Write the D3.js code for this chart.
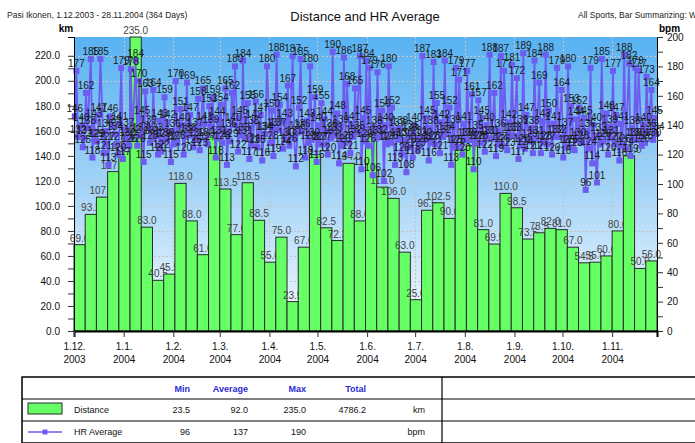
<!DOCTYPE html>
<html lang="en">
<head>
	<meta charset="utf-8">
	<title>Distance and HR Average</title>
	<script src="https://cdn.jsdelivr.net/npm/d3@7"></script>
	<style>
		body { margin: 0; background: #fff; }
		svg { display: block; font-family: "Liberation Sans", Arial, sans-serif; }
	</style>
</head>
<body>
	<script>
		// weekly distance (km), weeks starting Monday 1.12.2003
		const distance = [69.0, 93.2, 107.0, 127.4, 143.4, 235.0, 83.0, 40.5, 45.5, 118.0, 88.0, 61.0, 155.0,
			113.5, 77.0, 118.5, 88.5, 55.0, 75.0, 23.5, 67.0, 141.0, 82.5, 72.3, 134.0, 88.0, 157.0,
			115.0, 106.0, 63.0, 25.0, 96.5, 102.5, 90.0, 145.0, 148.0, 81.0, 69.5, 110.0, 98.5, 73.5,
			78.5, 82.0, 81.0, 67.0, 54.5, 55.0, 60.0, 80.0, 140.0, 50.0, 56.0];

		// HR average per exercise: [day since 1.12.2003, bpm]
		const hrAverage = [
			[0,146],[1,177],[2,132],[4,140],[5,125],[6,131],
			[7,162],[8,138],[10,185],[11,118],[12,143],[13,129],
			[14,129],[15,147],[16,185],[18,121],[19,136],[20,127],
			[21,113],[22,146],[24,139],[25,134],[26,127],[27,120],
			[28,141],[29,179],[30,117],[32,137],[33,130],[34,126],
			[35,178],[36,132],[38,184],[39,126],[40,170],[41,133],
			[42,145],[43,115],[44,163],[46,139],[47,128],[48,131],
			[49,164],[50,133],[52,120],[53,143],[54,122],[55,129],
			[56,159],[57,130],[58,142],[60,115],[61,136],[62,127],
			[63,170],[64,128],[66,151],[67,140],[68,120],[69,132],
			[70,169],[71,133],[72,147],[74,125],[75,137],[76,130],
			[77,158],[78,123],[80,165],[81,141],[82,130],[83,127],
			[84,153],[85,139],[86,159],[88,118],[89,144],[90,131],
			[91,154],[92,128],[94,165],[95,113],[96,136],[97,129],
			[98,162],[99,140],[100,180],[102,122],[103,145],[104,133],
			[105,184],[106,131],[108,155],[109,117],[110,138],[111,126],
			[112,142],[113,156],[114,125],[116,147],[117,116],[118,134],
			[119,134],[120,180],[122,128],[123,150],[124,119],[125,137],
			[126,188],[127,137],[128,154],[130,124],[131,143],[132,130],
			[133,167],[134,126],[136,187],[137,131],[138,112],[139,135],
			[140,152],[141,185],[142,136],[144,118],[145,143],[146,128],
			[147,180],[148,130],[150,159],[151,115],[152,140],[153,127],
			[154,155],[155,127],[156,144],[158,120],[159,136],[160,131],
			[161,190],[162,133],[164,148],[165,114],[166,139],[167,126],
			[168,186],[169,128],[170,168],[172,121],[173,141],[174,132],
			[175,165],[176,135],[178,187],[179,110],[180,145],[181,129],
			[182,184],[183,126],[184,179],[186,106],[187,138],[188,131],
			[189,176],[190,132],[192,150],[193,102],[194,140],[195,127],
			[196,180],[197,128],[198,152],[200,113],[201,137],[202,130],
			[203,138],[204,120],[206,130],[207,108],[208,125],[209,133],
			[210,135],[211,118],[212,140],[214,123],[215,131],[216,126],
			[217,187],[218,130],[220,145],[221,116],[222,138],[223,128],
			[224,183],[225,127],[226,155],[228,121],[229,142],[230,132],
			[231,184],[232,134],[234,152],[235,113],[236,139],[237,125],
			[238,179],[239,125],[240,171],[242,120],[243,141],[244,130],
			[245,177],[246,130],[248,161],[249,110],[250,135],[251,128],
			[252,157],[253,128],[254,145],[256,122],[257,140],[258,131],
			[259,188],[260,131],[262,162],[263,119],[264,136],[265,127],
			[266,187],[267,126],[268,177],[270,123],[271,142],[272,133],
			[273,181],[274,133],[276,172],[277,117],[278,139],[279,126],
			[280,189],[281,124],[282,147],[284,129],[285,138],[286,121],
			[287,184],[288,131],[290,169],[291,121],[292,143],[293,128],
			[294,188],[295,127],[296,150],[298,120],[299,141],[300,132],
			[301,179],[302,132],[304,164],[305,118],[306,137],[307,125],
			[308,180],[309,125],[310,153],[312,123],[313,144],[314,130],
			[315,152],[316,128],[318,145],[319,96],[320,136],[321,124],
			[322,179],[323,114],[324,140],[326,101],[327,133],[328,127],
			[329,185],[330,129],[332,148],[333,120],[334,139],[335,131],
			[336,177],[337,127],[338,147],[340,116],[341,141],[342,126],
			[343,188],[344,124],[346,182],[347,119],[348,138],[349,130],
			[350,179],[351,130],[352,177],[354,126],[355,140],[356,128],
			[357,173],[358,136],[360,164],[361,130],[362,145],[363,134]
		];

		const monthTicks = ["2003-12-01", "2004-01-01", "2004-02-01", "2004-03-01", "2004-04-01", "2004-05-01",
			"2004-06-01", "2004-07-01", "2004-08-01", "2004-09-01", "2004-10-01", "2004-11-01"];

		const statHeaders = ["Min", "Average", "Max", "Total"];
		const distanceStats = ["23.5", "92.0", "235.0", "4786.2"];
		const hrStats = ["96", "137", "190", ""];

		const startDate = new Date(2003, 11, 1);
		const endDate = new Date(2004, 10, 29);
		const day = (n) => d3.timeDay.offset(startDate, n);

		const W = 695, H = 443;
		const svg = d3.select("body").append("svg").attr("width", W).attr("height", H);

		const x = d3.scaleTime().domain([startDate, endDate]).range([74, 657]);
		const yL = d3.scaleLinear().domain([0, 235]).range([331, 37]);
		const yR = d3.scaleLinear().domain([0, 200]).range([331, 37]);

		// header texts
		svg.append("text").attr("x", 7).attr("y", 18).attr("font-size", 8.5).attr("fill", "#222")
			.text("Pasi Ikonen, 1.12.2003 - 28.11.2004 (364 Days)");
		svg.append("text").attr("x", 365).attr("y", 21).attr("font-size", 13).attr("text-anchor", "middle")
			.attr("fill", "#111").text("Distance and HR Average");
		svg.append("text").attr("x", 578).attr("y", 18).attr("font-size", 8.5).attr("fill", "#222")
			.text("All Sports, Bar Summarizing: Week");
		svg.append("text").attr("x", 66).attr("y", 32).attr("font-size", 10).attr("font-weight", "bold")
			.attr("text-anchor", "middle").text("km");
		svg.append("text").attr("x", 659).attr("y", 32).attr("font-size", 10).attr("font-weight", "bold")
			.text("bpm");

		// plot background
		const grad = svg.append("defs").append("linearGradient")
			.attr("id", "bg").attr("x1", 0).attr("y1", 0).attr("x2", 0).attr("y2", 1);
		grad.append("stop").attr("offset", 0).attr("stop-color", "#58b2f2");
		grad.append("stop").attr("offset", 0.5).attr("stop-color", "#a2d3f7");
		grad.append("stop").attr("offset", 1).attr("stop-color", "#f6fbff");

		svg.append("rect")
			.attr("x", x.range()[0]).attr("y", yL.range()[1])
			.attr("width", x.range()[1] - x.range()[0]).attr("height", yL.range()[0] - yL.range()[1])
			.attr("fill", "url(#bg)");

		// grid
		const grid = svg.append("g").attr("stroke", "#c4c4c4").attr("stroke-dasharray", "2,2").attr("stroke-width", 1);
		grid.selectAll("line.h").data(d3.range(20, 235, 20)).join("line")
			.attr("x1", 74).attr("x2", 657)
			.attr("y1", (d) => Math.round(yL(d)) + 0.5).attr("y2", (d) => Math.round(yL(d)) + 0.5);
		grid.selectAll("line.v").data(monthTicks.slice(1)).join("line")
			.attr("x1", (d) => Math.round(x(new Date(d))) + 0.5).attr("x2", (d) => Math.round(x(new Date(d))) + 0.5)
			.attr("y1", 37).attr("y2", 331);

		// bars with their labels (next bar covers previous label)
		const bars = svg.append("g").selectAll("g").data(distance).join("g");
		bars.append("rect")
			.attr("x", (d, i) => x(day(i * 7)))
			.attr("width", (d, i) => x(day(i * 7 + 7)) - x(day(i * 7)))
			.attr("y", (d) => yL(d))
			.attr("height", (d) => yL(0) - yL(d))
			.attr("fill", "#66ff66")
			.attr("stroke", "#2a2a2a")
			.attr("stroke-width", 1);
		bars.append("text")
			.attr("x", (d, i) => (x(day(i * 7)) + x(day(i * 7 + 7))) / 2)
			.attr("y", (d) => yL(d) - 3)
			.attr("text-anchor", "middle")
			.attr("font-size", 10)
			.attr("fill", "#444")
			.text((d) => d3.format(".1f")(d));

		// HR series
		const hrColor = "#6c5cf0";
		const px = (d) => x(d3.timeHour.offset(day(d[0]), 12));
		svg.append("path")
			.datum(hrAverage)
			.attr("fill", "none")
			.attr("stroke", hrColor)
			.attr("stroke-width", 1.8)
			.attr("d", d3.line().x(px).y((d) => yR(d[1])));
		svg.append("g").selectAll("rect").data(hrAverage).join("rect")
			.attr("x", (d) => px(d) - 3).attr("y", (d) => yR(d[1]) - 3)
			.attr("width", 6).attr("height", 6)
			.attr("fill", hrColor);
		svg.append("g").selectAll("text").data(hrAverage).join("text")
			.attr("x", (d) => px(d))
			.attr("y", (d) => yR(d[1]) - 4)
			.attr("text-anchor", "middle")
			.attr("font-size", 10)
			.attr("fill", "#1a1a1a")
			.text((d) => d[1]);

		// axes
		const axisL = svg.append("g").attr("transform", "translate(74,0)")
			.call(d3.axisLeft(yL).tickValues(d3.range(0, 230, 10)).tickSize(6).tickPadding(8)
				.tickFormat((d) => d % 20 === 0 ? d3.format(".1f")(d) : ""));
		const axisR = svg.append("g").attr("transform", "translate(657,0)")
			.call(d3.axisRight(yR).tickValues(d3.range(0, 201, 10)).tickSize(6).tickPadding(4)
				.tickFormat((d) => d % 20 === 0 ? d : ""));
		const axisB = svg.append("g").attr("transform", "translate(0,331)")
			.call(d3.axisBottom(x).tickValues(monthTicks.map((d) => new Date(d))).tickSize(6).tickFormat(""));

		[axisL, axisR, axisB].forEach((a) => {
			a.select(".domain").attr("stroke", "#000");
			a.selectAll(".tick line").attr("stroke", "#333");
			a.selectAll("text").attr("font-size", 10).attr("fill", "#111")
				.attr("font-family", "\"Liberation Sans\", Arial, sans-serif");
		});
		axisB.select(".domain").attr("stroke-width", 2);

		axisB.selectAll(".tick").append("text")
			.attr("text-anchor", "middle")
			.attr("font-size", 10)
			.attr("fill", "#111")
			.selectAll("tspan")
			.data((d) => [d3.timeFormat("%-d.%-m.")(d), d3.timeFormat("%Y")(d)])
			.join("tspan")
			.attr("x", 0)
			.attr("y", (d, i) => 19 + i * 13)
			.text((d) => d);

		// summary table
		const tbl = svg.append("g");
		const rowY = [377, 399, 421, 443];
		tbl.append("rect").attr("x", 22).attr("y", rowY[0]).attr("width", 700).attr("height", rowY[3] - rowY[0])
			.attr("fill", "none").attr("stroke", "#000").attr("stroke-width", 1.5);
		tbl.selectAll("line.row").data(rowY.slice(1, 3)).join("line")
			.attr("x1", 22).attr("x2", 695).attr("y1", (d) => d).attr("y2", (d) => d)
			.attr("stroke", "#000").attr("stroke-width", 1.2);
		tbl.append("line").attr("x1", 442).attr("x2", 442).attr("y1", rowY[0]).attr("y2", rowY[3])
			.attr("stroke", "#000").attr("stroke-width", 1.2);

		const colRight = [190, 248, 306, 366];
		tbl.selectAll("text.head").data(statHeaders).join("text")
			.attr("x", (d, i) => colRight[i]).attr("y", 392)
			.attr("text-anchor", "end").attr("font-size", 9).attr("font-weight", "bold")
			.attr("fill", "#2a2ad0").text((d) => d);

		const rows = [
			{ name: "Distance", stats: distanceStats, unit: "km", y: 413 },
			{ name: "HR Average", stats: hrStats, unit: "bpm", y: 435 }
		];
		rows.forEach((r) => {
			tbl.append("text").attr("x", 74).attr("y", r.y).attr("font-size", 9).attr("fill", "#111").text(r.name);
			tbl.selectAll(null).data(r.stats).join("text")
				.attr("x", (d, i) => colRight[i]).attr("y", r.y)
				.attr("text-anchor", "end").attr("font-size", 9).attr("fill", "#111").text((d) => d);
			tbl.append("text").attr("x", 425).attr("y", r.y).attr("text-anchor", "end")
				.attr("font-size", 9).attr("fill", "#111").text(r.unit);
		});

		// legend symbols
		tbl.append("rect").attr("x", 28).attr("y", 403).attr("width", 34).attr("height", 11)
			.attr("fill", "#66ff66").attr("stroke", "#2a2a2a");
		tbl.append("line").attr("x1", 28).attr("x2", 62).attr("y1", 432).attr("y2", 432)
			.attr("stroke", hrColor).attr("stroke-width", 1.6);
		tbl.append("rect").attr("x", 42.5).attr("y", 429.5).attr("width", 5).attr("height", 5).attr("fill", hrColor);
	</script>
</body>
</html>
